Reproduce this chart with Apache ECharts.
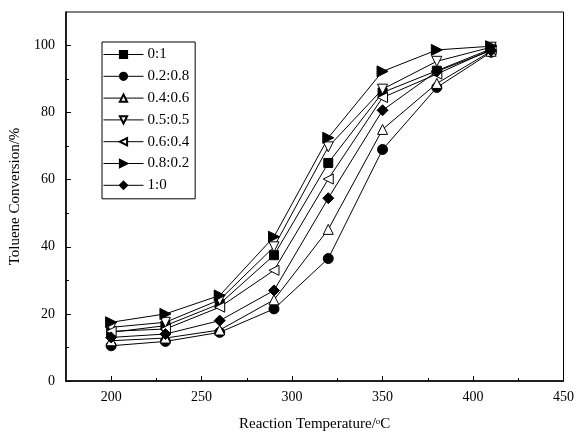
<!DOCTYPE html>
<html>
<head>
<meta charset="utf-8">
<script src="https://cdn.jsdelivr.net/npm/echarts@6/dist/echarts.min.js"></script>
<style>
  html, body { margin: 0; background: #fff; }
  #chart { width: 577px; height: 437px; }
</style>
</head>
<body>
<div id="chart"></div>
<script>
// -----------------------------------------------------------------------------
// Toluene conversion vs reaction temperature, one line per ratio
// -----------------------------------------------------------------------------
const temperatures = [200, 230, 260, 290, 320, 350, 380, 410];
const ratioNames = ["0:1", "0.2:0.8", "0.4:0.6", "0.5:0.5", "0.6:0.4", "0.8:0.2", "1:0"];

const conv_0_1 = [14.5, 16.5, 23.0, 37.5, 65.0, 86.0, 92.5, 99.0];
const conv_02_08 = [10.5, 11.8, 14.5, 21.5, 36.5, 69.0, 87.5, 98.0];
const conv_04_06 = [12.0, 12.8, 15.2, 24.2, 45.2, 75.0, 88.7, 98.3];
const conv_05_05 = [16.0, 17.5, 24.2, 40.0, 69.8, 87.0, 95.3, 99.5];
const conv_06_04 = [14.8, 15.5, 22.0, 33.0, 60.2, 84.5, 91.5, 98.8];
const conv_08_02 = [17.5, 20.0, 25.5, 43.0, 72.5, 92.3, 98.7, 99.8];
const conv_1_0 = [13.0, 14.0, 18.0, 27.0, 54.5, 80.7, 92.3, 98.5];

const xMajorTicks = [200, 250, 300, 350, 400, 450];
const xMinorTicks = [225, 275, 325, 375, 425];
const yMajorTicks = [0, 20, 40, 60, 80, 100];
const yMinorTicks = [10, 30, 50, 70, 90];

const FONT = "'Liberation Serif', 'Times New Roman', serif";

// symbol, rotation, filled?
const markers = [
  { symbol: "rect", rotate: 0, filled: true, size: 9 },
  { symbol: "circle", rotate: 0, filled: true, size: 10 },
  { symbol: "triangle", rotate: 0, filled: false, size: 10 },
  { symbol: "triangle", rotate: 180, filled: false, size: 10 },
  { symbol: "triangle", rotate: 90, filled: false, size: 10 },
  { symbol: "triangle", rotate: -90, filled: true, size: 11 },
  { symbol: "diamond", rotate: 0, filled: true, size: 11 }
];

const allSeries = [conv_0_1, conv_02_08, conv_04_06, conv_05_05, conv_06_04, conv_08_02, conv_1_0];

const chart = echarts.init(document.getElementById("chart"));

const baseAxisX = {
  type: "value",
  min: 175,
  max: 450,
  position: "bottom"
};
const baseAxisY = {
  type: "value",
  min: 0,
  max: 110,
  position: "left"
};

chart.setOption({
  animation: false,
  backgroundColor: "#fff",
  textStyle: { fontFamily: FONT, color: "#000" },
  grid: {
    left: 64, right: 10, top: 12, bottom: 54,
    show: true, borderColor: "#000", borderWidth: 1
  },
  legend: {
    orient: "vertical",
    left: 102,
    top: 42,
    padding: [5, 6, 6, 1],
    itemGap: 6.8,
    itemWidth: 40,
    itemHeight: 9,
    borderColor: "#000",
    borderWidth: 1,
    backgroundColor: "#fff",
    lineStyle: { width: 1, color: "#000" },
    textStyle: { fontFamily: FONT, fontSize: 15, color: "#000", padding: [0, 0, 0, -1] },
    data: ratioNames
  },
  xAxis: [
    Object.assign({}, baseAxisX, {
      name: "Reaction Temperature/{sup|o}C",
      nameLocation: "middle",
      nameGap: 36,
      nameTextStyle: {
        fontFamily: FONT, fontSize: 15, color: "#000",
        rich: { sup: { fontFamily: FONT, fontSize: 9, verticalAlign: "top", padding: [0, 0, 6, 0] } }
      },
      axisLine: { lineStyle: { color: "#000", width: 1.5 } },
      axisTick: { inside: true, length: 5, lineStyle: { color: "#000", width: 1 }, customValues: xMajorTicks },
      axisLabel: { customValues: xMajorTicks, color: "#000", fontFamily: FONT, fontSize: 14, margin: 9 },
      splitLine: { show: false }
    }),
    Object.assign({}, baseAxisX, {
      axisLine: { show: false },
      axisTick: { inside: true, length: 3, lineStyle: { color: "#000", width: 1 }, customValues: xMinorTicks },
      axisLabel: { show: false },
      splitLine: { show: false }
    })
  ],
  yAxis: [
    Object.assign({}, baseAxisY, {
      name: "Toluene Conversion/%",
      nameLocation: "middle",
      nameGap: 37,
      nameTextStyle: { fontFamily: FONT, fontSize: 15, color: "#000" },
      axisLine: { show: true, lineStyle: { color: "#000", width: 1.5 } },
      axisTick: { show: true, inside: true, length: 5, lineStyle: { color: "#000", width: 1 }, customValues: yMajorTicks },
      axisLabel: { customValues: yMajorTicks, color: "#000", fontFamily: FONT, fontSize: 14, margin: 11 },
      splitLine: { show: false }
    }),
    Object.assign({}, baseAxisY, {
      axisLine: { show: false },
      axisTick: { show: true, inside: true, length: 3, lineStyle: { color: "#000", width: 1 }, customValues: yMinorTicks },
      axisLabel: { show: false },
      splitLine: { show: false }
    })
  ],
  series: allSeries.map((vals, i) => ({
    name: ratioNames[i],
    type: "line",
    xAxisIndex: 0,
    yAxisIndex: 0,
    data: temperatures.map((t, j) => [t, vals[j]]),
    symbol: markers[i].symbol,
    symbolRotate: markers[i].rotate,
    symbolSize: markers[i].size,
    showAllSymbol: true,
    lineStyle: { color: "#000", width: 1 },
    itemStyle: {
      color: markers[i].filled ? "#000" : "#fff",
      borderColor: "#000",
      borderWidth: 1
    },
    z: 2
  }))
});
</script>
</body>
</html>
